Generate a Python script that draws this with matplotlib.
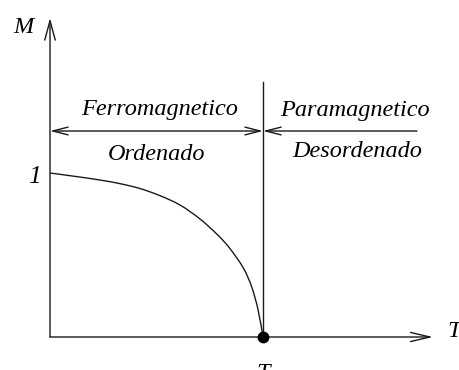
import matplotlib
matplotlib.use("Agg")
import matplotlib.pyplot as plt
from matplotlib.patches import FancyArrowPatch, PathPatch
from matplotlib.path import Path

plt.rcParams['mathtext.fontset'] = 'custom'
plt.rcParams['mathtext.rm'] = 'Liberation Serif'
plt.rcParams['mathtext.it'] = 'Liberation Serif:italic'

# Magnetization curve M(T), T in units of Tc
T_vals = [0.0, 0.131, 0.235, 0.329, 0.423, 0.516, 0.610, 0.704, 0.789, 0.845, 0.908, 0.947, 0.977, 1.0]
M_vals = [1.0, 0.977, 0.957, 0.935, 0.905, 0.862, 0.805, 0.720, 0.620, 0.539, 0.420, 0.305, 0.165, 0.0]

label_ferro = "Ferromagnetico"
label_ord = "Ordenado"
label_para = "Paramagnetico"
label_desord = "Desordenado"

W, H = 460, 370
fig = plt.figure(figsize=(W / 100, H / 100), dpi=100)
ax = fig.add_axes([0, 0, 1, 1])
# pixel mapping: T=0 at x=50, T=1 at x=263 ; M=0 at y=337, M=1 at y=173
x0, sx = 50.0, 213.0
y0, sy = 337.0, 164.0
ax.set_xlim(-x0 / sx, (W - x0) / sx)
ax.set_ylim((y0 - H) / sy, y0 / sy)
ax.axis('off')

def X(px):
    return (px - x0) / sx

def Y(py):
    return (y0 - py) / sy

lc = '#1a1a1a'
lw = 1.0
font = dict(family='Liberation Serif', style='italic', color='black')

# axes arrows
ax.add_patch(FancyArrowPatch((0, 0), (0, Y(18)), arrowstyle='->,head_length=1.4,head_width=0.38',
                             mutation_scale=10, lw=lw, color=lc, shrinkA=0, shrinkB=0))
ax.add_patch(FancyArrowPatch((0, 0), (X(433), 0), arrowstyle='->,head_length=1.4,head_width=0.33',
                             mutation_scale=10, lw=lw, color=lc, shrinkA=0, shrinkB=0))

# Tc vertical line
ax.plot([1, 1], [0, Y(82)], color=lc, lw=lw)

# region arrows
yb = Y(131)
ax.add_patch(FancyArrowPatch((0, yb), (1, yb), arrowstyle='<->,head_length=1.1,head_width=0.28',
                             mutation_scale=10, lw=lw, color=lc, shrinkA=0, shrinkB=0))
ax.add_patch(FancyArrowPatch((X(417), yb), (1, yb), arrowstyle='->,head_length=1.1,head_width=0.28',
                             mutation_scale=10, lw=lw, color=lc, shrinkA=0, shrinkB=0))

# smooth curve through the read points (Catmull-Rom rendered as cubic Bezier path)
pts = list(zip(T_vals, M_vals))
verts = [pts[0]]
codes = [Path.MOVETO]
for i in range(len(pts) - 1):
    p0 = pts[i - 1] if i > 0 else pts[i]
    p1 = pts[i]
    p2 = pts[i + 1]
    p3 = pts[i + 2] if i + 2 < len(pts) else pts[i + 1]
    c1 = (p1[0] + (p2[0] - p0[0]) / 6, p1[1] + (p2[1] - p0[1]) / 6)
    c2 = (p2[0] - (p3[0] - p1[0]) / 6, p2[1] - (p3[1] - p1[1]) / 6)
    verts += [c1, c2, p2]
    codes += [Path.CURVE4] * 3
ax.add_patch(PathPatch(Path(verts, codes), facecolor='none', edgecolor=lc, lw=lw))
ax.plot([1], [0], 'o', color='black', ms=7.5)

fs = 17.5
ax.text(X(160), Y(115), label_ferro, ha='center', va='baseline', fontsize=fs, **font)
ax.text(X(157), Y(160), label_ord, ha='center', va='baseline', fontsize=fs, **font)
ax.text(X(355), Y(116), label_para, ha='center', va='baseline', fontsize=fs, **font)
ax.text(X(357), Y(157), label_desord, ha='center', va='baseline', fontsize=fs, **font)

ax.text(X(23), Y(33), 'M', ha='center', va='baseline', fontsize=fs, **font)
ax.text(X(35), Y(183), '1', ha='center', va='baseline', fontsize=fs + 1, **font)
ax.text(X(454), Y(337), 'T', ha='center', va='baseline', fontsize=fs, **font)
ax.text(X(256), Y(361), r'$T_c$', ha='left', va='top', fontsize=fs)

fig.savefig('out.png', dpi=100)
